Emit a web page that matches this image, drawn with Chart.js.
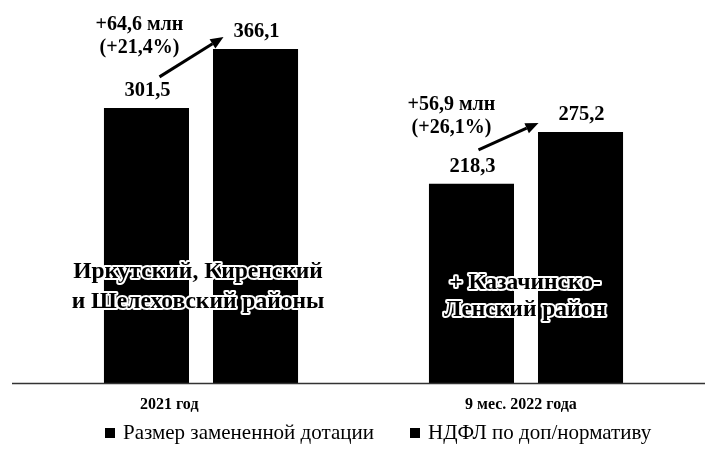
<!DOCTYPE html>
<html>
<head>
<meta charset="utf-8">
<script src="https://cdn.jsdelivr.net/npm/chart.js@4"></script>
<style>
html,body{margin:0;padding:0;background:#fff;}
canvas{display:block;}
</style>
</head>
<body>
<canvas id="c" width="705" height="456"></canvas>
<script>
const categories = ['2021 год', '9 мес. 2022 года'];
const seriesNames = ['Размер замененной дотации', 'НДФЛ по доп/нормативу'];
const replacedSubsidy = [301.5, 218.3];
const ndflExtra = [366.1, 275.2];
const growthAbs = ['+64,6 млн', '+56,9 млн'];
const growthPct = ['(+21,4%)', '(+26,1%)'];
const overlayLines = [
  ['Иркутский, Киренский', 'и Шелеховский районы'],
  ['+ Казачинско-', 'Ленский район']
];

const SERIF = '"Liberation Serif", "Times New Roman", serif';
const fmt = v => v.toFixed(1).replace('.', ',');

const decor = {
  id: 'decor',
  afterDraw(chart) {
    const ctx = chart.ctx;
    const xs = chart.scales.x, ys = chart.scales.y;
    const base = ys.getPixelForValue(0);
    const m0 = chart.getDatasetMeta(0).data;
    const m1 = chart.getDatasetMeta(1).data;
    ctx.save();
    // baseline
    ctx.strokeStyle = '#333';
    ctx.lineWidth = 1.5;
    ctx.beginPath();
    ctx.moveTo(12, base + 0.5);
    ctx.lineTo(705, base + 0.5);
    ctx.stroke();

    // value labels
    ctx.fillStyle = '#000';
    ctx.textAlign = 'center';
    ctx.textBaseline = 'middle';
    ctx.font = 'bold 20.5px ' + SERIF;
    [m0, m1].forEach((meta, d) => {
      const vals = d === 0 ? replacedSubsidy : ndflExtra;
      meta.forEach((el, i) => {
        ctx.fillText(fmt(vals[i]), el.x + 1, el.y - 17);
      });
    });

    // growth annotations + arrows
    const txtOff = [[-7, -83], [-20, -79]];
    const aStart = [[13, -31], [7, -34]];
    const aEnd = [[-32, -12], [-42, -9]];
    categories.forEach((c, i) => {
      const b1 = m0[i], b2 = m1[i];
      ctx.font = 'bold 20px ' + SERIF;
      ctx.fillText(growthAbs[i], b1.x + txtOff[i][0], b1.y + txtOff[i][1]);
      ctx.fillText(growthPct[i], b1.x + txtOff[i][0], b1.y + txtOff[i][1] + 23);
      const sx = b1.x + aStart[i][0], sy = b1.y + aStart[i][1];
      const ex = b2.x + aEnd[i][0], ey = b2.y + aEnd[i][1];
      const ang = Math.atan2(ey - sy, ex - sx);
      const hl = 13, hw = 5.5;
      const bx = ex - hl * Math.cos(ang), by = ey - hl * Math.sin(ang);
      ctx.strokeStyle = '#000';
      ctx.lineWidth = 3;
      ctx.beginPath();
      ctx.moveTo(sx, sy);
      ctx.lineTo(bx, by);
      ctx.stroke();
      ctx.beginPath();
      ctx.moveTo(ex, ey);
      ctx.lineTo(bx + hw * Math.sin(ang), by - hw * Math.cos(ang));
      ctx.lineTo(bx - hw * Math.sin(ang), by + hw * Math.cos(ang));
      ctx.closePath();
      ctx.fill();
    });

    // overlay text over bars
    const ovY = [[-111, -81], [-100, -73]];
    const ovX = [-3, -1];
    ctx.font = 'bold 23.5px ' + SERIF;
    ctx.lineJoin = 'round';
    categories.forEach((c, i) => {
      const cx = xs.getPixelForValue(i) + ovX[i];
      overlayLines[i].forEach((line, k) => {
        const y = base + ovY[i][k];
        ctx.strokeStyle = '#fff';
        ctx.lineWidth = 4;
        ctx.strokeText(line, cx, y);
        ctx.fillStyle = '#000';
        ctx.fillText(line, cx, y);
      });
    });

    // category labels
    ctx.font = 'bold 16px ' + SERIF;
    ctx.textAlign = 'left';
    categories.forEach((c, i) => {
      ctx.fillText(c, xs.getPixelForValue(i) - 61, base + 22);
    });

    // legend
    ctx.font = '21px ' + SERIF;
    const legX = [105, 410];
    const ly = 433;
    seriesNames.forEach((n, i) => {
      ctx.fillStyle = '#000';
      ctx.fillRect(legX[i], ly - 5, 10, 10);
      ctx.fillText(n, legX[i] + 18, ly);
    });
    ctx.restore();
  }
};

new Chart(document.getElementById('c'), {
  type: 'bar',
  data: {
    labels: categories,
    datasets: [
      { label: seriesNames[0], data: replacedSubsidy, backgroundColor: '#000', borderWidth: 0,
        categoryPercentage: 0.671, barPercentage: 0.78 },
      { label: seriesNames[1], data: ndflExtra, backgroundColor: '#000', borderWidth: 0,
        categoryPercentage: 0.671, barPercentage: 0.78 }
    ]
  },
  options: {
    responsive: false,
    animation: false,
    layout: { padding: { left: 38.5, right: 16.5, top: 18, bottom: 73 } },
    plugins: { legend: { display: false }, tooltip: { enabled: false } },
    scales: {
      x: { display: false },
      y: { display: false, min: 0, max: 400 }
    }
  },
  plugins: [decor]
});
</script>
</body>
</html>
